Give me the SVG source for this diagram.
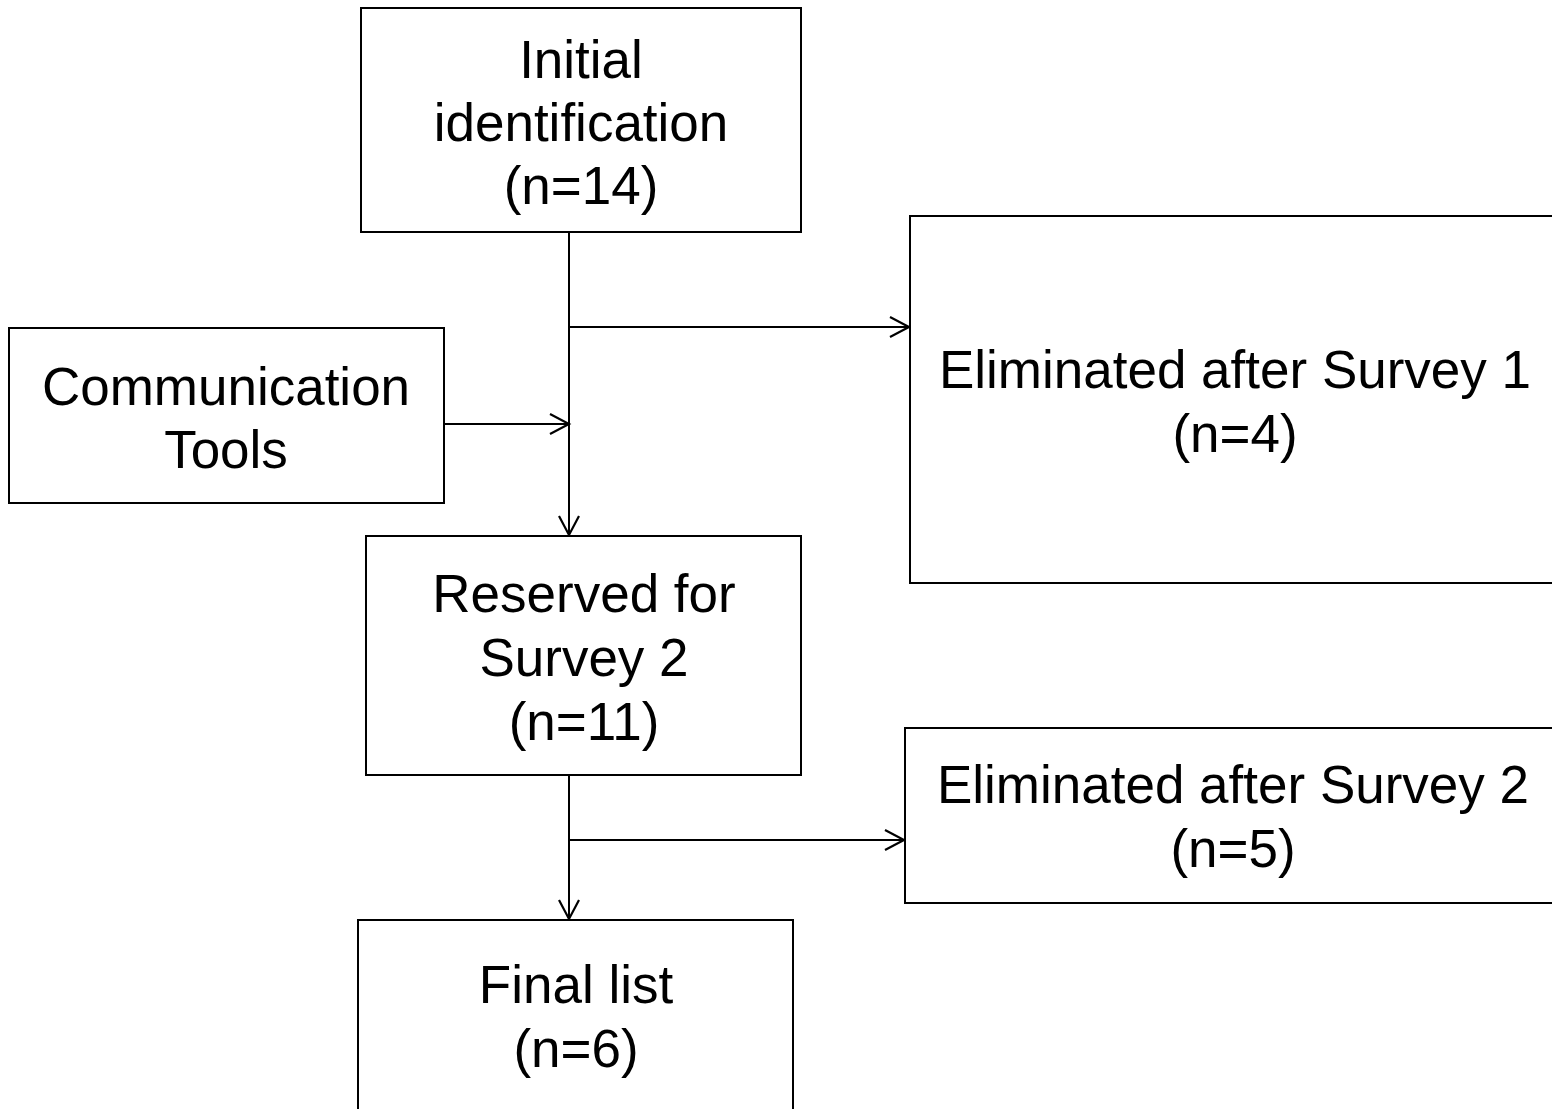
<svg xmlns="http://www.w3.org/2000/svg" width="1552" height="1109" viewBox="0 0 1552 1109">
<style>
.box{fill:#fff;stroke:#000;stroke-width:2}
.t{font-family:"Liberation Sans",Arial,sans-serif;font-size:53px;fill:#000;text-anchor:middle}
.c{fill:none;stroke:#000;stroke-width:2}
</style>
<defs>
<marker id="ah" viewBox="0 0 24 24" refX="21" refY="12" markerWidth="24" markerHeight="24" markerUnits="userSpaceOnUse" orient="auto">
<path d="M2,2 L21,12 L2,22" fill="none" stroke="#000" stroke-width="2.2"/>
</marker>
</defs>
<rect width="1552" height="1109" fill="#fff"/>
<g id="connectors">
<path class="c" d="M569,232 V535" marker-end="url(#ah)"/>
<path class="c" d="M569,327 H909" marker-end="url(#ah)"/>
<path class="c" d="M444,424 H569" marker-end="url(#ah)"/>
<path class="c" d="M569,775 V919" marker-end="url(#ah)"/>
<path class="c" d="M569,840 H904" marker-end="url(#ah)"/>
</g>
<g id="initial">
<rect class="box" x="361" y="8" width="440" height="224"/>
<text class="t" x="581" y="78">Initial</text>
<text class="t" x="581" y="141">identification</text>
<text class="t" x="581" y="204">(n=14)</text>
</g>
<g id="communication">
<rect class="box" x="9" y="328" width="435" height="175"/>
<text class="t" x="226" y="405">Communication</text>
<text class="t" x="226" y="468">Tools</text>
</g>
<g id="elim1">
<rect class="box" x="910" y="216" width="660" height="367"/>
<text class="t" x="1235" y="388">Eliminated after Survey 1</text>
<text class="t" x="1235" y="452">(n=4)</text>
</g>
<g id="reserved">
<rect class="box" x="366" y="536" width="435" height="239"/>
<text class="t" x="584" y="612">Reserved for</text>
<text class="t" x="584" y="676">Survey 2</text>
<text class="t" x="584" y="740">(n=11)</text>
</g>
<g id="elim2">
<rect class="box" x="905" y="728" width="665" height="175"/>
<text class="t" x="1233" y="803">Eliminated after Survey 2</text>
<text class="t" x="1233" y="867">(n=5)</text>
</g>
<g id="final">
<rect class="box" x="358" y="920" width="435" height="220"/>
<text class="t" x="576" y="1003">Final list</text>
<text class="t" x="576" y="1067">(n=6)</text>
</g>
</svg>
